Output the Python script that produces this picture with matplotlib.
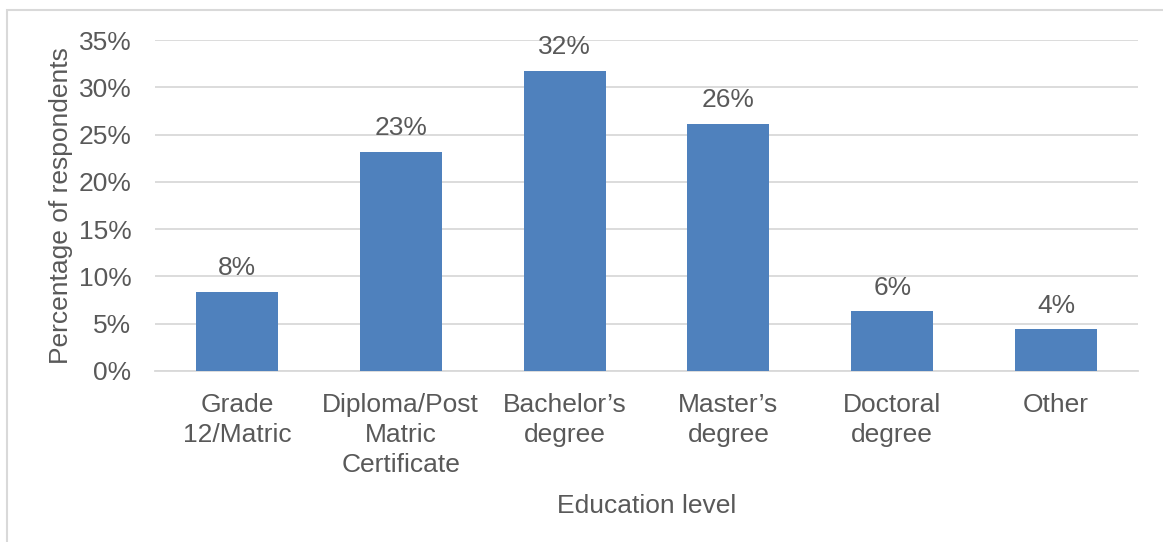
import matplotlib.pyplot as plt
from matplotlib.patches import Rectangle
from matplotlib.ticker import FuncFormatter

plt.rcParams['font.family'] = ['Liberation Sans', 'DejaVu Sans']

# Education level of respondents (percent)
levels = ["Grade\n12/Matric", "Diploma/Post\nMatric\nCertificate", "Bachelor\u2019s\ndegree",
          "Master\u2019s\ndegree", "Doctoral\ndegree", "Other"]
shares = [8.4, 23.2, 31.7, 26.1, 6.3, 4.4]
y_ticks = [0, 5, 10, 15, 20, 25, 30, 35]

text_col = '#595959'
grid_col = '#d9d9d9'
fs = 19

fig = plt.figure(figsize=(11.63, 5.42), dpi=100)
ax = fig.add_axes([155 / 1163, 1 - 371 / 542, (1138 - 155) / 1163, 331 / 542])

x = range(len(levels))
bars = ax.bar(x, shares, width=0.5, color='#4f81bd', zorder=3)
for b, v in zip(bars, shares):
    ax.text(b.get_x() + b.get_width() / 2, v + 1.25, f"{v:.0f}%", ha='center', va='bottom',
            fontsize=fs, color=text_col)

ax.set_xlim(-0.5, len(levels) - 0.5)
ax.set_ylim(0, 35)
ax.set_yticks(y_ticks)
ax.yaxis.set_major_formatter(FuncFormatter(lambda v, p: f"{v:.0f}%"))
ax.set_xticks(list(x))
ax.set_xticklabels(levels, linespacing=1.33)
ax.tick_params(axis='both', length=0, labelsize=fs, labelcolor=text_col)
ax.tick_params(axis='x', pad=15.5)
ax.tick_params(axis='y', pad=17)
ax.grid(axis='y', color=grid_col, linewidth=1.3, zorder=0)
for s in ['top', 'right', 'left']:
    ax.spines[s].set_visible(False)
ax.spines['bottom'].set_color(grid_col)
ax.spines['bottom'].set_linewidth(1.3)

ax.set_ylabel('Percentage of respondents', fontsize=fs, color=text_col, labelpad=4)
ax.set_xlabel('Education level', fontsize=fs, color=text_col, labelpad=12)

# chart frame
fig.patches.append(Rectangle((7 / 1163, -0.1), 1.2, 1 - 10 / 542 + 0.1, transform=fig.transFigure,
                             fill=False, edgecolor=grid_col, linewidth=1.5))

fig.savefig('out.png', dpi=100)
